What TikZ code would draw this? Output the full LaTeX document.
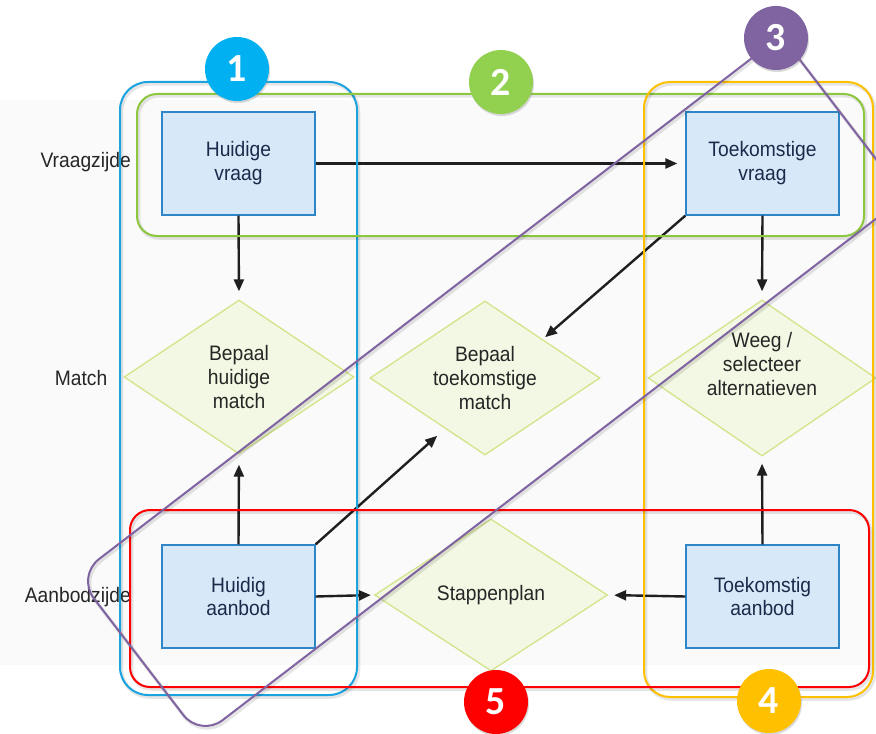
\documentclass[tikz,border=0pt]{standalone}
\usepackage{fontspec}
\setmainfont[FakeStretch=0.92]{Liberation Sans}
\newfontfamily\numfont{Carlito}
\usetikzlibrary{arrows.meta,shapes.geometric,shadows}

\definecolor{pagebg}{HTML}{FAFAFA}
\definecolor{boxfill}{HTML}{D7E9F8}
\definecolor{boxline}{HTML}{2E86C8}
\definecolor{boxtext}{HTML}{1B2A4A}
\definecolor{dmfill}{HTML}{F2F8E3}
\definecolor{dmline}{HTML}{D3E48A}
\definecolor{labeltext}{HTML}{262626}
\definecolor{grpblue}{HTML}{1AA3DF}
\definecolor{grpgreen}{HTML}{8DC63F}
\definecolor{grporange}{HTML}{FFC000}
\definecolor{grpred}{HTML}{FF0000}
\definecolor{grppurple}{HTML}{8064A2}
\definecolor{numblue}{HTML}{00B0F0}
\definecolor{numgreen}{HTML}{92D050}

\newcommand\dgfont{\fontsize{21}{24}\selectfont}

\tikzset{
  stepbox/.style={rectangle, draw=boxline, line width=1.3bp, fill=boxfill,
    minimum width=153bp, minimum height=103bp, inner sep=0pt,
    align=center, text=boxtext, font=\dgfont},
  choice/.style={diamond, draw=dmline, line width=1.3bp, fill=dmfill,
    inner sep=0pt, minimum width=230bp, minimum height=154bp},
  choicetext/.style={align=center, text=labeltext, font=\dgfont},
  rowlabel/.style={text=labeltext, font=\dgfont, inner sep=0pt},
  arr/.style={-{Triangle[length=12bp,width=10bp]}, line width=2.4bp, black!88},
  grp/.style={line width=2bp,
    preaction={draw=black, opacity=0.1, line width=3.5bp,
      transform canvas={xshift=1.5bp,yshift=-2bp}}},
  numdot/.style={circle, minimum size=64bp, inner sep=0pt, text=white,
    font=\numfont\bfseries\fontsize{40}{40}\selectfont,
    drop shadow={opacity=0.3, shadow xshift=1bp, shadow yshift=-2bp}},
}

\begin{document}
\begin{tikzpicture}[x=1bp,y=-1bp]
\useasboundingbox (0,0) rectangle (876,734);
\fill[pagebg] (0,100) rectangle (876,665);

% row labels
\node[rowlabel, anchor=east] (lv) at (131,162) {Vraagzijde};
\node[rowlabel] (lm) at (81,378) {Match};
\node[rowlabel, anchor=east] (la) at (131,597) {Aanbodzijde};

% demand / supply boxes
\node[stepbox] (hv) at (238.5,163.5) {Huidige\\vraag};
\node[stepbox] (tv) at (762.5,163.5) {Toekomstige\\vraag};
\node[stepbox] (ha) at (238.5,596.5) {Huidig\\aanbod};
\node[stepbox] (ta) at (762.5,596.5) {Toekomstig\\aanbod};

% decision diamonds
\node[choice, label={[choicetext]center:{Bepaal\\huidige\\match}}] (dhm) at (239,377) {};
\node[choice, label={[choicetext]center:{Bepaal\\toekomstige\\match}}] (dtm) at (485,378) {};
\node[choice, minimum width=228bp, minimum height=156bp,
  label={[choicetext, yshift=14bp]center:{Weeg /\\selecteer\\alternatieven}}] (dws) at (762,378) {};
\node[choice, minimum width=233bp, minimum height=152bp,
  label={[choicetext]center:{Stappenplan}}] (dsp) at (491,595) {};

% flow
\draw[arr, shorten >=8bp] (hv.east) -- (tv.west);
\draw[arr, shorten >=8bp] (hv.south) -- (dhm.north);
\draw[arr, shorten >=8bp] (tv.south) -- (dws.north);
\draw[arr, shorten >=3bp] (tv.south west) -- (dtm.north east);
\draw[arr, shorten >=10bp] (ha.north) -- (dhm.south);
\draw[arr] (ha.north east) -- ([xshift=10bp,yshift=-19bp]dtm.south west);
\draw[arr, shorten >=3bp] (ha.east) -- (dsp.west);
\draw[arr, shorten >=6bp] (ta.west) -- (dsp.east);
\draw[arr, shorten >=7bp] (ta.north) -- (dws.south);

% groupings
\draw[grp, draw=grpblue, rounded corners=28bp] (120,82) rectangle (357,695);
\draw[grp, draw=grpgreen, rounded corners=20bp] (137,94) rectangle (864,236);
\draw[grp, draw=grporange, rounded corners=26bp] (644,82) rectangle (873,697);
\draw[grp, draw=grpred, rounded corners=20bp] (130,510) rectangle (869,687);
\node[grp, draw=grppurple, rectangle, rounded corners=28bp, minimum width=888bp,
  minimum height=203bp, inner sep=0pt, rotate=37.5] (g3) at (490.8,386.4) {};

% numbered markers
\node[numdot, fill=numblue] (n1) at (237,69) {1};
\node[numdot, fill=numgreen] (n2) at (501,82) {2};
\node[numdot, fill=grppurple] (n3) at (776,38) {3};
\node[numdot, fill=grporange] (n4) at (769,701) {4};
\node[numdot, fill=grpred] (n5) at (496,702) {5};
\end{tikzpicture}
\end{document}
